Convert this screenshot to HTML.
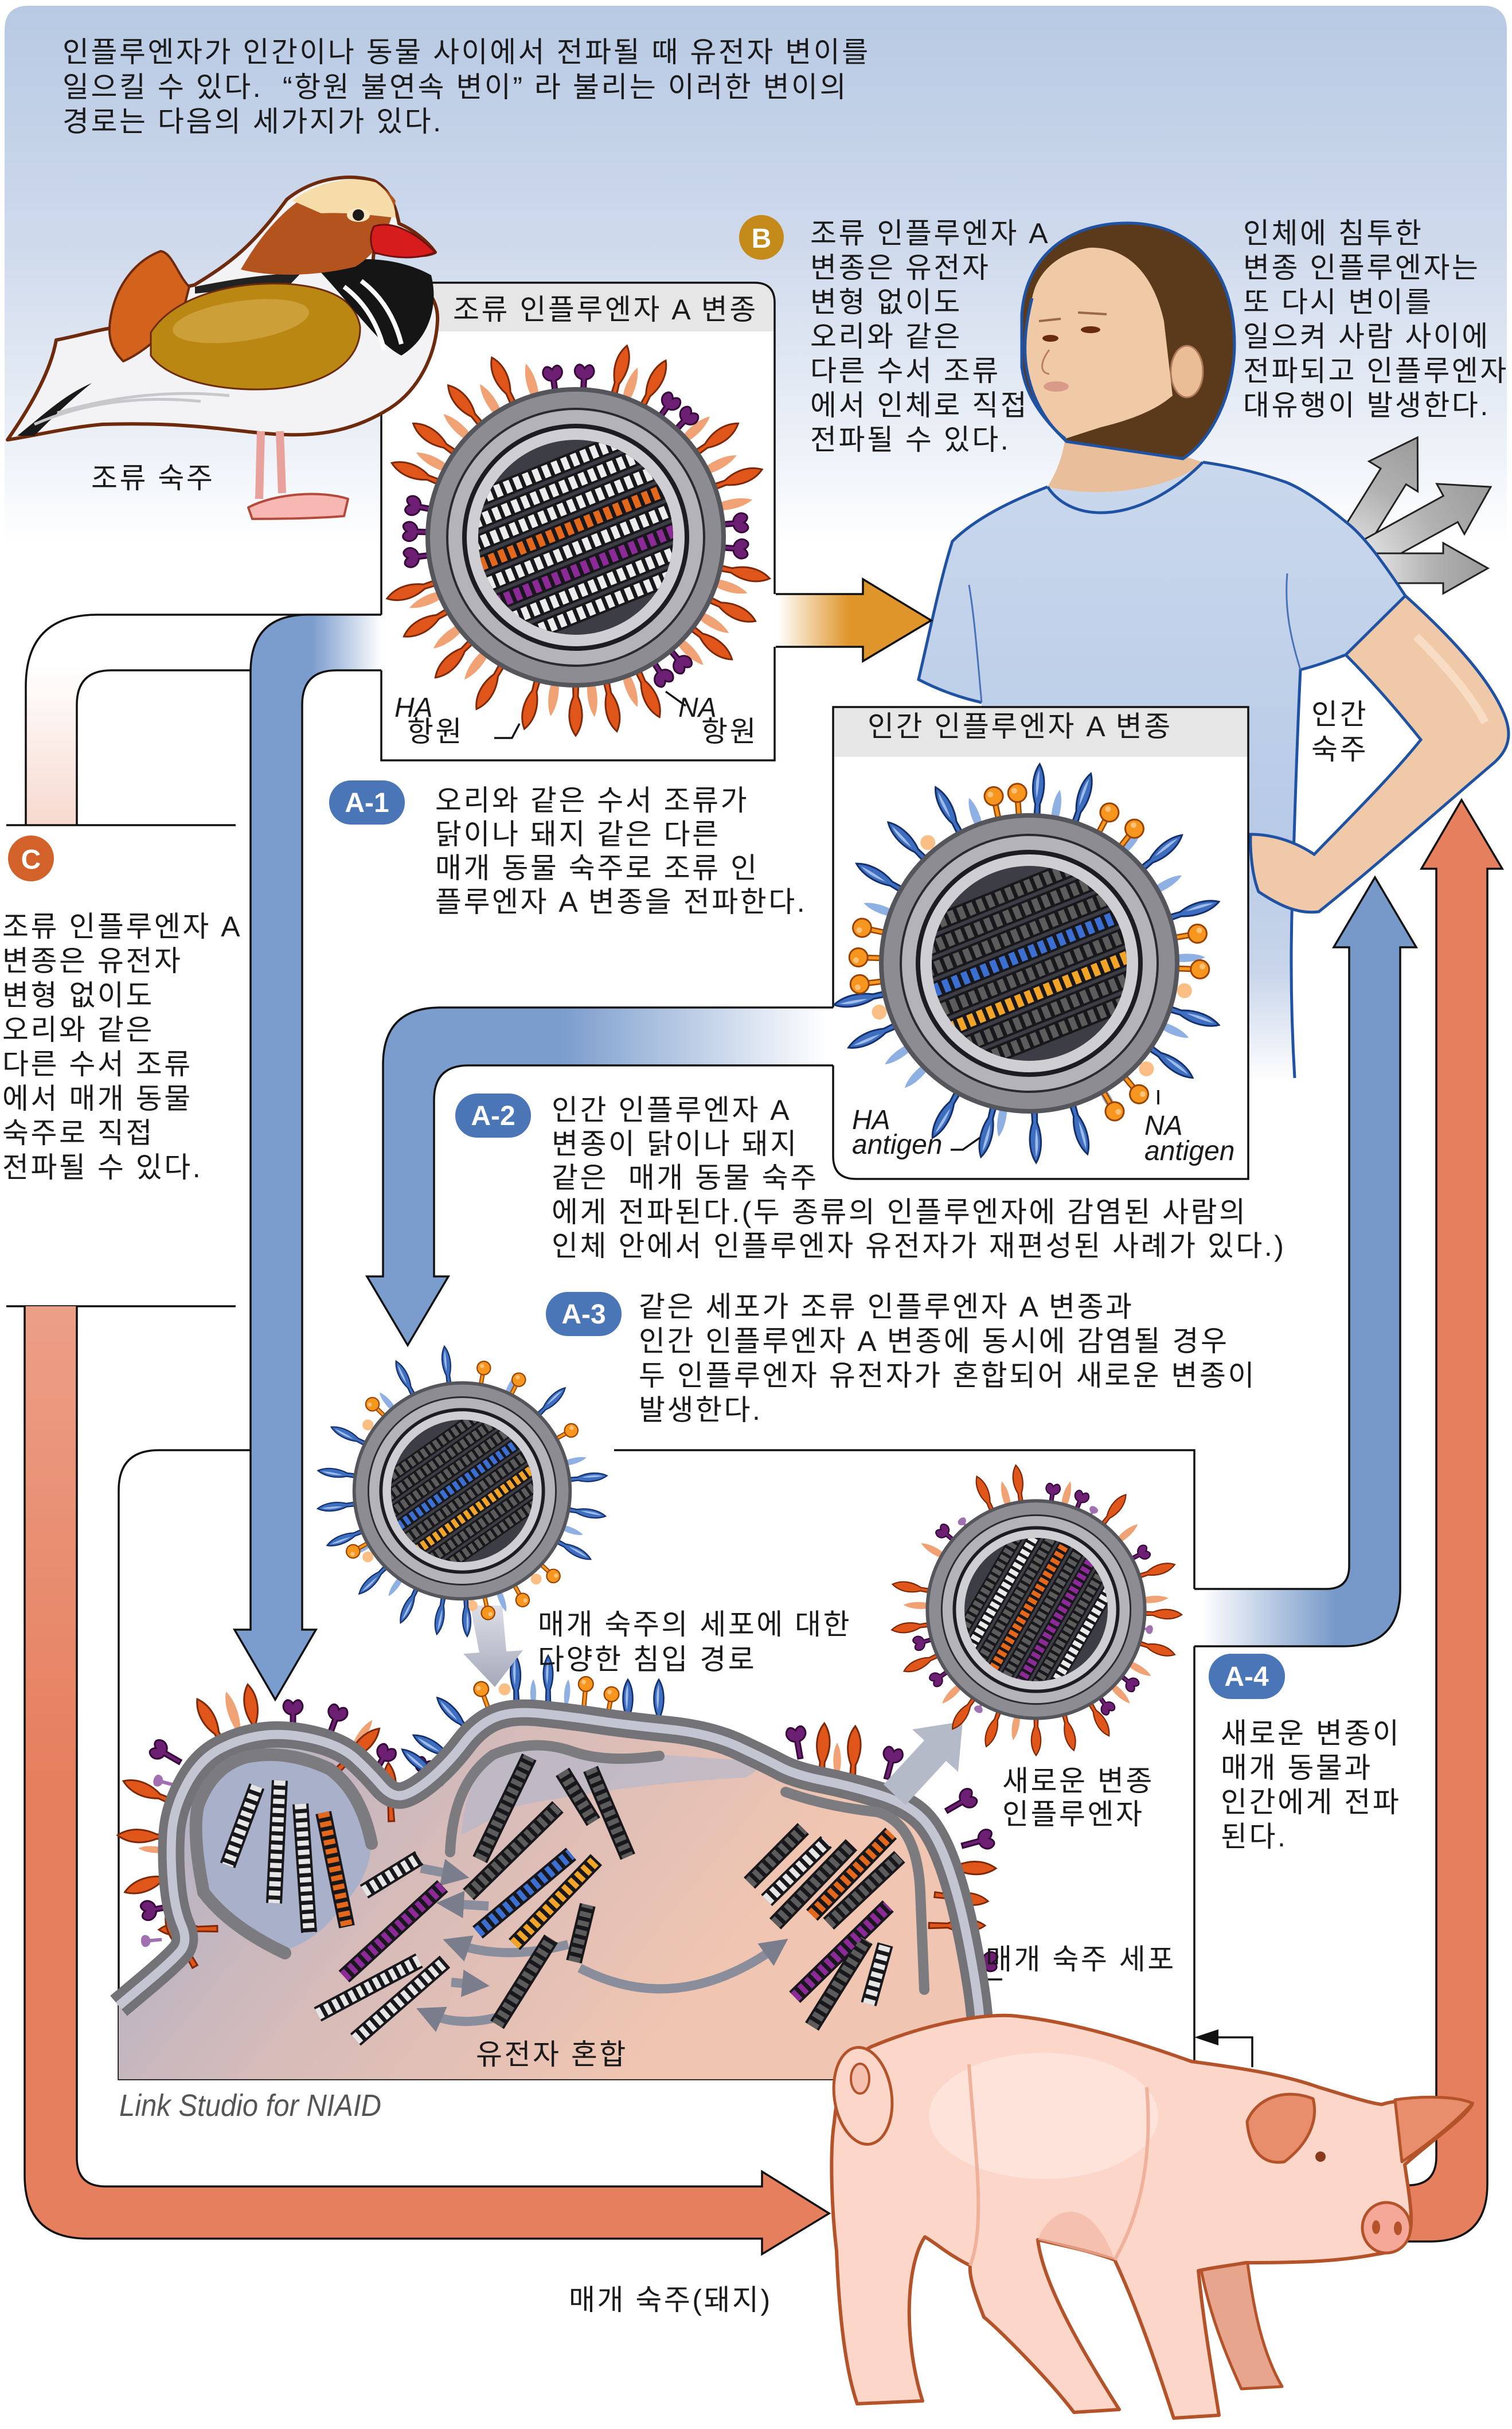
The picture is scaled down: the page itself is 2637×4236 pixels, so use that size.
<!DOCTYPE html>
<html><head><meta charset="utf-8">
<style>
html,body{margin:0;padding:0;background:#fff;}
svg{display:block;}
text{font-family:"Liberation Sans","Noto Sans CJK KR",sans-serif;font-size:50px;fill:#1a1a1a;white-space:pre;letter-spacing:3.5px;}
.it{font-style:italic;font-size:48px;letter-spacing:0;}
.bd{font-weight:bold;fill:#fff;font-size:48px;letter-spacing:0;}
.ln{fill:none;stroke:#111;stroke-width:3.5;}
.kb{stroke:#18181c;stroke-width:28;}
.kw{stroke:#e6e6e6;stroke-width:20;stroke-dasharray:9 7;}
.kk{stroke:#5c5c5c;stroke-width:20;stroke-dasharray:9 7;}
.ko{stroke:#e4681c;stroke-width:20;stroke-dasharray:9 7;}
.kp{stroke:#8c2b97;stroke-width:20;stroke-dasharray:9 7;}
.kB{stroke:#3b6fd2;stroke-width:20;stroke-dasharray:9 7;}
.kO{stroke:#f2a428;stroke-width:20;stroke-dasharray:9 7;}
.rw{fill:none;stroke-width:22;stroke-dasharray:11 7;}
.ga{fill:none;stroke:#8a8e9c;stroke-width:16;marker-end:url(#ah);}
</style></head>
<body>
<svg xmlns="http://www.w3.org/2000/svg" width="2637" height="4236" viewBox="0 0 2637 4236">
<defs>
<linearGradient id="bgG" gradientUnits="userSpaceOnUse" x1="0" y1="10" x2="0" y2="950"><stop offset="0" stop-color="#b7c9e3"/><stop offset="0.45" stop-color="#cfdaec"/><stop offset="0.8" stop-color="#ebf0f7"/><stop offset="1" stop-color="#ffffff"/></linearGradient>
<linearGradient id="cTop" gradientUnits="userSpaceOnUse" x1="0" y1="1160" x2="0" y2="1439"><stop offset="0" stop-color="#ffffff"/><stop offset="1" stop-color="#f7d9cf"/></linearGradient>
<linearGradient id="cLow" gradientUnits="userSpaceOnUse" x1="0" y1="2278" x2="0" y2="3100"><stop offset="0" stop-color="#ec9f87"/><stop offset="1" stop-color="#e67f5e"/></linearGradient>
<linearGradient id="bA1" gradientUnits="userSpaceOnUse" x1="665" y1="0" x2="545" y2="0"><stop offset="0" stop-color="#ffffff"/><stop offset="1" stop-color="#7b9dcd"/></linearGradient>
<linearGradient id="bA2" gradientUnits="userSpaceOnUse" x1="1440" y1="0" x2="980" y2="0"><stop offset="0" stop-color="#ffffff"/><stop offset="1" stop-color="#7b9dcd"/></linearGradient>
<linearGradient id="bA4" gradientUnits="userSpaceOnUse" x1="2095" y1="0" x2="2330" y2="0"><stop offset="0" stop-color="#ffffff"/><stop offset="1" stop-color="#7799c9"/></linearGradient>
<linearGradient id="orB" gradientUnits="userSpaceOnUse" x1="1356" y1="0" x2="1480" y2="0"><stop offset="0" stop-color="#ffffff"/><stop offset="1" stop-color="#e0952a"/></linearGradient>
<linearGradient id="cellG" gradientUnits="userSpaceOnUse" x1="300" y1="2980" x2="1100" y2="3620"><stop offset="0" stop-color="#aab0c8"/><stop offset="0.5" stop-color="#d6bbb9"/><stop offset="1" stop-color="#f0c5b1"/></linearGradient>
<linearGradient id="shirtG" gradientUnits="userSpaceOnUse" x1="0" y1="800" x2="0" y2="1890"><stop offset="0" stop-color="#cad8ed"/><stop offset="0.6" stop-color="#b7cae6"/><stop offset="0.82" stop-color="#c8d5ea"/><stop offset="1" stop-color="#ffffff"/></linearGradient>
<linearGradient id="grA" x1="0" y1="0" x2="1" y2="0"><stop offset="0" stop-color="#e2e2e2"/><stop offset="0.5" stop-color="#b2b2b2"/><stop offset="1" stop-color="#9a9a9a"/></linearGradient>
<linearGradient id="invG" gradientUnits="userSpaceOnUse" x1="0" y1="2800" x2="0" y2="2942"><stop offset="0" stop-color="#dcdfe7"/><stop offset="1" stop-color="#a4a9ba"/></linearGradient>
<marker id="ah" markerWidth="3" markerHeight="3" refX="1.5" refY="1.5" orient="auto" markerUnits="strokeWidth"><path d="M0 0 L3 1.5 L0 3Z" fill="#7a7e8c"/></marker>
<clipPath id="cc"><circle r="170"/></clipPath>
<path id="ha" d="M-5 4 L-4 -30 C-15 -55 -13 -80 0 -98 C13 -80 15 -55 4 -30 L5 4Z" fill="#e0561a" stroke="#7d2808" stroke-width="3"/>
<path id="haf" d="M-4 0 C-12 -30 -8 -55 0 -70 C8 -55 12 -30 4 0Z" fill="#f1a274"/>
<path id="na" d="M-4 4 L-4 -26 C-14 -28 -20 -38 -15 -47 C-10 -55 -3 -50 0 -45 C3 -50 10 -55 15 -47 C20 -38 14 -28 4 -26 L4 4Z" fill="#6c1f73" stroke="#350838" stroke-width="3"/>
<path id="naf" d="M-3 0 L-3 -20 C-10 -22 -13 -30 -8 -34 C-4 -37 4 -37 8 -34 C13 -30 10 -22 3 -20 L3 0Z" fill="#a070b0"/>
<g id="hab"><path d="M-5 4 L-4 -30 C-13 -55 -11 -82 0 -100 C11 -82 13 -55 4 -30 L5 4Z" fill="#3e6ec0" stroke="#13306c" stroke-width="3"/><path d="M-2 -40 C-6 -60 -5 -78 0 -90 C1 -75 1 -60 -2 -40Z" fill="#9fbbe8"/></g>
<path id="habf" d="M-4 0 C-10 -25 -7 -50 0 -62 C7 -50 10 -25 4 0Z" fill="#8fb0e2"/>
<g id="nao"><rect x="-4" y="-38" width="8" height="42" fill="#f7961f" stroke="#9a4300" stroke-width="2.5"/><circle cy="-48" r="16" fill="#f7961f" stroke="#9a4300" stroke-width="3"/><circle cx="-5" cy="-52" r="5" fill="#fcc27a"/></g>
<circle id="naof" cy="-30" r="13" fill="#fbbf86"/>
<g id="vb">
<circle r="262" fill="#55555c"/><circle r="254" fill="#8c8c92"/><circle r="226" fill="#2a2a30"/><circle r="222" fill="#b3b3b8"/><circle r="198" fill="#1c1c22"/><circle r="190" fill="#cfcfd3"/><circle r="170" fill="#3d3d46"/>
</g>
<path id="rows" d="M-190 -126H190M-190 -90H190M-190 -54H190M-190 -18H190M-190 18H190M-190 54H190M-190 90H190M-190 126H190" stroke="#18181c" stroke-width="30"/>
</defs>

<!-- background -->
<rect width="2637" height="4236" fill="#fff"/>
<path d="M8 52 Q8 10 50 10 L2586 10 Q2628 10 2628 52 L2628 960 L8 960 Z" fill="url(#bgG)"/>

<!-- avian box -->
<path d="M665 493 L1316 493 Q1351 493 1351 528 L1351 1326 L665 1326 Z" fill="#fff"/>
<path d="M665 493 L1316 493 Q1351 493 1351 528 L1351 578 L665 578 Z" fill="#e6e6e6"/>
<path class="ln" d="M665 730 L665 493 L1316 493 Q1351 493 1351 528 L1351 1036 M1351 1128 L1351 1326 L665 1326 L665 1169 M665 1072 L665 730"/>

<!-- gray arrows behind woman -->
<g stroke="#222" stroke-width="3" fill="url(#grA)">
<polygon transform="translate(2350 960) rotate(-58.2)" points="0,-26 152,-26 152,-50 232,0 152,50 152,26 0,26"/>
<polygon transform="translate(2380 970) rotate(-28.8)" points="0,-26 171,-26 171,-50 251,0 171,50 171,26 0,26"/>
<polygon transform="translate(2400 991)" points="0,-26 117,-26 117,-44 195,0 117,44 117,26 0,26"/>
</g>

<!-- woman -->
<path d="M1827 849 C1760 875 1700 905 1661 944 C1640 1010 1622 1100 1602 1185 C1640 1205 1680 1218 1712 1225 L1712 1900 L2258 1900 C2252 1780 2250 1660 2254 1560 C2258 1420 2262 1290 2268 1168 C2300 1160 2325 1150 2347 1142 L2451 1039 C2415 985 2380 935 2347 910 C2305 875 2270 852 2243 841 C2190 822 2140 812 2098 806 C2050 850 1930 872 1827 849 Z" fill="url(#shirtG)"/>
<path d="M1712 1225 C1680 1218 1640 1205 1602 1185 C1622 1100 1640 1010 1661 944 C1700 905 1760 875 1827 849 M2098 806 C2140 812 2190 822 2243 841 C2270 852 2305 875 2347 910 C2380 935 2415 985 2451 1039 L2347 1142 C2325 1150 2300 1160 2268 1168 C2262 1290 2258 1420 2254 1560 C2250 1680 2252 1780 2258 1880" fill="none" stroke="#1f52a3" stroke-width="5"/>
<path d="M1712 1225 C1705 1150 1700 1080 1690 1020 M2268 1168 C2250 1110 2240 1060 2245 1000" fill="none" stroke="#4a72b8" stroke-width="3"/>
<path d="M1858 760 L2063 795 L2098 806 C2050 850 1930 872 1827 849 C1845 820 1855 790 1858 760 Z" fill="#e9bf9b"/>
<path d="M1827 849 C1870 915 1990 915 2098 806" fill="none" stroke="#1f52a3" stroke-width="5"/>
<path d="M1782 548 C1790 440 1870 389 1966 389 C2080 389 2153 470 2153 600 C2153 690 2110 770 2063 800 L1860 770 C1830 740 1790 700 1782 640 Z" fill="#5b3a1c" stroke="#1f52a3" stroke-width="5"/>
<path d="M1800 520 C1810 470 1850 440 1900 432 C1960 430 2010 470 2030 560 L2045 690 C2010 720 1960 735 1920 745 L1858 765 C1830 745 1800 700 1790 640 C1784 600 1790 560 1800 520 Z" fill="#f0caa6"/>
<path d="M1800 520 C1790 560 1784 600 1790 640 C1800 700 1830 745 1858 765" fill="none" stroke="#1f52a3" stroke-width="5"/>
<ellipse cx="2070" cy="648" rx="28" ry="45" fill="#eabd96" stroke="#b07a5a" stroke-width="3"/>
<ellipse cx="1832" cy="590" rx="14" ry="6" fill="#6a2a10"/>
<ellipse cx="1902" cy="575" rx="17" ry="6" fill="#6a2a10"/>
<path d="M1812 560 L1850 556 M1880 545 L1930 548" stroke="#9a6a48" stroke-width="4"/>
<path d="M1830 610 C1815 630 1812 650 1830 652" fill="none" stroke="#b88060" stroke-width="3"/>
<ellipse cx="1842" cy="674" rx="22" ry="9" fill="#d99a8a"/>
<path d="M2347 1142 L2451 1039 C2530 1110 2600 1185 2625 1250 C2640 1290 2625 1315 2600 1335 C2500 1420 2400 1510 2300 1590 C2260 1595 2225 1575 2195 1555 C2185 1530 2180 1490 2181 1455 C2215 1455 2255 1465 2292 1490 C2360 1420 2430 1350 2478 1290 C2430 1230 2390 1185 2347 1142 Z" fill="#f0caa8" stroke="#1f52a3" stroke-width="5"/>
<path d="M2470 1110 C2530 1170 2570 1220 2590 1260" fill="none" stroke="#f8dcc4" stroke-width="14"/>

<!-- human box -->
<path d="M1453 1233 L2177 1233 L2177 2056 L1493 2056 Q1453 2056 1453 2016 Z" fill="#fff"/>
<rect x="1453" y="1233" width="724" height="87" fill="#e6e6e6"/>
<path class="ln" d="M1453 1757 L1453 1233 L2177 1233 L2177 2056 L1493 2056 Q1453 2056 1453 2016 L1453 1858"/>

<!-- C pipe top -->
<path d="M665 1072 L170 1072 Q45 1072 45 1197 L45 1439 L134 1439 L134 1229 Q134 1169 194 1169 L665 1169 Z" fill="url(#cTop)"/>
<path class="ln" d="M665 1072 L170 1072 Q45 1072 45 1197 L45 1439 M134 1439 L134 1229 Q134 1169 194 1169 L437 1169"/>
<path class="ln" d="M11 1439 L411 1439 M11 2278 L411 2278"/>
<!-- C pipe bottom -->
<path d="M43 2278 L43 3794 Q43 3904 153 3904 L1329 3904 L1329 3931 L1446 3860 L1329 3787 L1329 3813 L184 3813 Q134 3813 134 3763 L134 2278 Z" fill="url(#cLow)"/>
<path class="ln" d="M134 2278 L134 3763 Q134 3813 184 3813 L1329 3813 L1329 3787 L1446 3860 L1329 3931 L1329 3904 L153 3904 Q43 3904 43 3794 L43 2278"/>

<!-- right red pipe -->
<path d="M2479 1515 L2549 1395 L2620 1515 L2594 1515 L2594 3809 Q2594 3909 2494 3909 L2380 3909 L2380 3811 L2455 3811 Q2505 3811 2505 3761 L2505 1515 Z" fill="#e67f5e"/>
<path class="ln" d="M2380 3811 L2455 3811 Q2505 3811 2505 3761 L2505 1515 L2479 1515 L2549 1395 L2620 1515 L2594 1515 L2594 3809 Q2594 3909 2494 3909 L2380 3909"/>

<!-- A-1 pipe -->
<path d="M665 1072 L537 1072 Q437 1072 437 1172 L437 2842 L409 2842 L480 2964 L551 2842 L527 2842 L527 1229 Q527 1169 587 1169 L665 1169 Z" fill="url(#bA1)"/>
<path class="ln" d="M665 1072 L537 1072 Q437 1072 437 1172 L437 2842 L409 2842 L480 2964 L551 2842 L527 2842 L527 1229 Q527 1169 587 1169 L665 1169"/>

<!-- A-2 pipe -->
<path d="M1453 1757 L768 1757 Q668 1757 668 1857 L668 2226 L640 2226 L711 2346 L782 2226 L757 2226 L757 1918 Q757 1858 817 1858 L1453 1858 Z" fill="url(#bA2)"/>
<path class="ln" d="M1453 1757 L768 1757 Q668 1757 668 1857 L668 2226 L640 2226 L711 2346 L782 2226 L757 2226 L757 1918 Q757 1858 817 1858 L1453 1858"/>

<!-- A-4 pipe -->
<path d="M2083 2771 L2313 2771 Q2353 2771 2353 2731 L2353 1652 L2326 1652 L2398 1530 L2470 1652 L2442 1652 L2442 2771 Q2442 2871 2342 2871 L2083 2871 Z" fill="url(#bA4)"/>
<path class="ln" d="M2083 2771 L2313 2771 Q2353 2771 2353 2731 L2353 1652 L2326 1652 L2398 1530 L2470 1652 L2442 1652 L2442 2771 Q2442 2871 2342 2871 L2083 2871"/>

<!-- B orange arrow -->
<path d="M1353 1036 L1505 1036 L1505 1010 L1624 1082 L1505 1153 L1505 1128 L1353 1128 Z" fill="url(#orB)"/>
<path class="ln" d="M1353 1036 L1505 1036 L1505 1010 L1624 1082 L1505 1153 L1505 1128 L1353 1128"/>

<!-- cell region box lines -->
<path class="ln" d="M437 2529 L277 2529 Q207 2529 207 2599 L207 3626 L1460 3626 M1071 2529 L2083 2529 L2083 2771 M2083 2871 L2083 3600 M2184 3605 L2184 3553 L2118 3553 M1701 3452 L1748 3452"/>
<polygon points="2083,3553 2125,3539 2125,3567" fill="#111"/>

<!-- cell -->
<path d="M207 3498 L253 3459.5 Q299 3421 314 3403.5 Q329 3386 317 3358 Q305 3330 301 3285 Q297 3240 299.5 3198 Q302 3156 325 3112.5 Q348 3069 382.5 3050.5 Q417 3032 457 3026.5 Q497 3021 546 3032.5 Q595 3044 620 3067 Q645 3090 664.5 3113 Q684 3136 704 3130.5 Q724 3125 753.5 3099.5 Q783 3074 808 3041 Q833 3008 862.5 2995.5 Q892 2983 941.5 2988 Q991 2993 1040.5 3000.5 Q1090 3008 1164 3015.5 Q1238 3023 1287.5 3046 Q1337 3069 1361.5 3082 Q1386 3095 1435.5 3105 Q1485 3115 1534.5 3130.5 Q1584 3146 1608.5 3171.5 Q1633 3197 1653 3253 Q1673 3309 1688 3385.5 Q1703 3462 1707.5 3508 Q1712 3554 1714.5 3590 L1717 3626 L207 3626 Z" fill="url(#cellG)"/>
<path d="M360 3300 Q335 3200 350 3140 Q370 3080 430 3062 Q500 3048 570 3080 Q630 3120 645 3200 Q655 3260 600 3320 Q560 3380 500 3400 Q420 3400 360 3300 Z" fill="#a9b0c9"/>
<path d="M805 3200 Q810 3100 870 3060 Q930 3035 1000 3055 Q1060 3070 1150 3060 L1300 3070 Q1340 3080 1300 3100 Q1100 3110 900 3150 Z" fill="#b5b8cb" opacity="0.7"/>

<!-- cell spikes -->
<g>
<use href="#haf" transform="translate(425 3045) rotate(-18) translate(0 -30)"/>
<use href="#haf" transform="translate(600 3070) rotate(35) translate(0 -30) scale(.8)"/>
<use href="#haf" transform="translate(320 3230) rotate(-85) translate(0 -30) scale(.7)"/>
<use href="#ha" transform="translate(452 3064) rotate(-9) translate(0 -30)"/>
<use href="#ha" transform="translate(408 3074) rotate(-30) translate(0 -30)"/>
<use href="#ha" transform="translate(571 3105) rotate(45) translate(0 -30)"/>
<use href="#ha" transform="translate(684 3202) rotate(-3) translate(0 -30)"/>
<use href="#ha" transform="translate(333 3156) rotate(-67) translate(0 -30)"/>
<use href="#ha" transform="translate(333 3205) rotate(-88) translate(0 -30)"/>
<use href="#ha" transform="translate(338 3256) rotate(-110) translate(0 -30)"/>
<use href="#ha" transform="translate(405 3363) rotate(-91) translate(0 -30)"/>
<use href="#ha" transform="translate(353 3452) rotate(-30) translate(0 -30)"/>
<use href="#na" transform="translate(511 3044) translate(0 -28)"/>
<use href="#na" transform="translate(566 3050) rotate(20) translate(0 -28)"/>
<use href="#na" transform="translate(335 3085) rotate(-60) translate(0 -28)"/>
<use href="#na" transform="translate(325 3320) rotate(-100) translate(0 -28)"/>
<use href="#na" transform="translate(640 3115) rotate(30) translate(0 -28)"/>
<use href="#na" transform="translate(712 3140) rotate(25) translate(0 -28)"/>
<use href="#naf" transform="translate(330 3120) rotate(-75) translate(0 -28)"/>
<use href="#naf" transform="translate(310 3380) rotate(-95) translate(0 -28)"/>
<use href="#habf" transform="translate(930 3000) translate(0 -28) scale(.7)"/>
<use href="#habf" transform="translate(985 3000) rotate(5) translate(0 -28) scale(.7)"/>
<use href="#hab" transform="translate(902 3003) rotate(-2) translate(0 -28) scale(.9)"/>
<use href="#hab" transform="translate(956 3000) translate(0 -28) scale(.85)"/>
<use href="#hab" transform="translate(1095 3045) translate(0 -28) scale(.88)"/>
<use href="#hab" transform="translate(1149 3045) translate(0 -28) scale(.88)"/>
<use href="#hab" transform="translate(843 3044) rotate(-44) translate(0 -28) scale(.88)"/>
<use href="#hab" transform="translate(823 3085) rotate(-60) translate(0 -28) scale(.9)"/>
<use href="#hab" transform="translate(793 3125) rotate(-51) translate(0 -28) scale(.9)"/>
<use href="#naof" transform="translate(880 2998) translate(0 -28) scale(.8)"/>
<use href="#nao" transform="translate(862 3008) rotate(-20) translate(0 -28) scale(.8)"/>
<use href="#nao" transform="translate(1016 3003) rotate(5) translate(0 -28) scale(.8)"/>
<use href="#nao" transform="translate(1055 3020) rotate(10) translate(0 -28) scale(.8)"/>
<use href="#haf" transform="translate(1460 3125) translate(0 -30) scale(.8)"/>
<use href="#ha" transform="translate(1431 3133) rotate(3) translate(0 -30)"/>
<use href="#ha" transform="translate(1485 3138) rotate(3) translate(0 -30)"/>
<use href="#ha" transform="translate(1569 3156) rotate(23) translate(0 -30) scale(.9)"/>
<use href="#ha" transform="translate(1609 3256) rotate(91) translate(0 -30)"/>
<use href="#ha" transform="translate(1604 3301) rotate(97) translate(0 -30) scale(.92)"/>
<use href="#ha" transform="translate(1594 3358) rotate(90) translate(0 -30) scale(.96)"/>
<use href="#na" transform="translate(1400 3090) rotate(-10) translate(0 -28)"/>
<use href="#na" transform="translate(1540 3125) rotate(15) translate(0 -28)"/>
<use href="#na" transform="translate(1630 3170) rotate(60) translate(0 -28)"/>
<use href="#na" transform="translate(1655 3225) rotate(75) translate(0 -28)"/>
<use href="#na" transform="translate(1660 3415) rotate(95) translate(0 -28)"/>
</g>
<!-- membrane -->
<path d="M207 3498 L253 3459.5 Q299 3421 314 3403.5 Q329 3386 317 3358 Q305 3330 301 3285 Q297 3240 299.5 3198 Q302 3156 325 3112.5 Q348 3069 382.5 3050.5 Q417 3032 457 3026.5 Q497 3021 546 3032.5 Q595 3044 620 3067 Q645 3090 664.5 3113 Q684 3136 704 3130.5 Q724 3125 753.5 3099.5 Q783 3074 808 3041 Q833 3008 862.5 2995.5 Q892 2983 941.5 2988 Q991 2993 1040.5 3000.5 Q1090 3008 1164 3015.5 Q1238 3023 1287.5 3046 Q1337 3069 1361.5 3082 Q1386 3095 1435.5 3105 Q1485 3115 1534.5 3130.5 Q1584 3146 1608.5 3171.5 Q1633 3197 1653 3253 Q1673 3309 1688 3385.5 Q1703 3462 1707.5 3508 Q1712 3554 1714.5 3590 L1717 3626" fill="none" stroke="#727277" stroke-width="46" stroke-linejoin="round"/>
<path d="M207 3498 L253 3459.5 Q299 3421 314 3403.5 Q329 3386 317 3358 Q305 3330 301 3285 Q297 3240 299.5 3198 Q302 3156 325 3112.5 Q348 3069 382.5 3050.5 Q417 3032 457 3026.5 Q497 3021 546 3032.5 Q595 3044 620 3067 Q645 3090 664.5 3113 Q684 3136 704 3130.5 Q724 3125 753.5 3099.5 Q783 3074 808 3041 Q833 3008 862.5 2995.5 Q892 2983 941.5 2988 Q991 2993 1040.5 3000.5 Q1090 3008 1164 3015.5 Q1238 3023 1287.5 3046 Q1337 3069 1361.5 3082 Q1386 3095 1435.5 3105 Q1485 3115 1534.5 3130.5 Q1584 3146 1608.5 3171.5 Q1633 3197 1653 3253 Q1673 3309 1688 3385.5 Q1703 3462 1707.5 3508 Q1712 3554 1714.5 3590 L1717 3626" fill="none" stroke="#c3c6d2" stroke-width="16" stroke-linejoin="round"/>
<path d="M497 3406 Q400 3360 355 3300 Q335 3200 345 3150 Q370 3080 430 3064 Q500 3050 575 3085 Q630 3125 648 3215" fill="none" stroke="#7b7b80" stroke-width="22" stroke-linecap="round"/>
<path d="M785 3230 Q790 3110 860 3060 Q930 3030 1000 3055 Q1060 3075 1150 3062" fill="none" stroke="#7b7b80" stroke-width="18" stroke-linecap="round"/>
<path d="M1370 3125 Q1440 3150 1530 3160 Q1600 3180 1605 3300 L1612 3470" fill="none" stroke="#7b7b80" stroke-width="18" stroke-linecap="round"/>

<!-- cell arrows -->
<path class="ga" d="M734 3258 L795 3270"/>
<path class="ga" d="M852 3324 L785 3320"/>
<path class="ga" d="M991 3391 Q880 3420 795 3390"/>
<path class="ga" d="M1011 3432 Q1180 3520 1355 3395" stroke="#6c7080" stroke-width="20"/>
<path class="ga" d="M787 3457 L830 3461"/>
<path class="ga" d="M867 3518 Q800 3535 748 3512"/>

<!-- cell coils -->
<g>
<path class="kb" d="M448 3115L397 3253M488 3105L478 3319M524 3146L539 3370M564 3161L605 3360M635 3299L731 3240M600 3447L772 3289M554 3513L731 3419M620 3557L776 3421M837 3243L923 3064M817 3304L973 3151M981 3090L1035 3177M1030 3085L1095 3238M833 3370L996 3233M897 3391L1040 3243M1001 3421L1025 3322M867 3531L961 3381M1307 3284L1401 3189M1337 3314L1441 3212M1352 3355L1485 3217M1416 3340L1554 3197M1445 3355L1569 3238M1386 3483L1549 3324M1416 3534L1510 3383M1515 3495L1544 3391"/>
<path class="kw" d="M448 3115L397 3253M488 3105L478 3319M524 3146L539 3370M635 3299L731 3240M554 3513L731 3419M620 3557L776 3421M1337 3314L1441 3212M1515 3495L1544 3391"/>
<path class="ko" d="M564 3161L605 3360M1416 3340L1554 3197"/>
<path class="kp" d="M600 3447L772 3289M1386 3483L1549 3324"/>
<path class="kk" d="M837 3243L923 3064M817 3304L973 3151M981 3090L1035 3177M1030 3085L1095 3238M1001 3421L1025 3322M867 3531L961 3381M1307 3284L1401 3189M1352 3355L1485 3217M1445 3355L1569 3238M1416 3534L1510 3383"/>
<path class="kB" d="M833 3370L996 3233"/>
<path class="kO" d="M897 3391L1040 3243"/>
</g>

<!-- invasion arrows -->
<polygon points="820,2800 876,2800 883,2880 912,2878 863,2942 808,2884 836,2882" fill="url(#invG)"/>
<polygon points="1541,3112 1612,3035 1591,3016 1679,3002 1671,3090 1650,3071 1579,3148" fill="#b4bac8"/>

<!-- V1 avian virus -->
<g transform="translate(1004 937)">
<use href="#haf" transform="rotate(-142) translate(0 -245)"/><use href="#haf" transform="rotate(-128) translate(0 -245)"/><use href="#haf" transform="rotate(-113) translate(0 -245)"/><use href="#haf" transform="rotate(-62) translate(0 -245)"/><use href="#haf" transform="rotate(-47) translate(0 -245)"/><use href="#haf" transform="rotate(-32) translate(0 -245)"/><use href="#haf" transform="rotate(-16) translate(0 -245)"/><use href="#haf" transform="rotate(20) translate(0 -245)"/><use href="#haf" transform="rotate(48) translate(0 -245)"/><use href="#haf" transform="rotate(63) translate(0 -245)"/><use href="#haf" transform="rotate(78) translate(0 -245)"/><use href="#haf" transform="rotate(108) translate(0 -245)"/><use href="#haf" transform="rotate(122) translate(0 -245)"/><use href="#haf" transform="rotate(135) translate(0 -245)"/><use href="#haf" transform="rotate(160) translate(0 -245)"/><use href="#haf" transform="rotate(174) translate(0 -245)"/><use href="#haf" transform="rotate(-172) translate(0 -245)"/>
<use href="#ha" transform="rotate(-165) translate(0 -248)"/><use href="#ha" transform="rotate(-150) translate(0 -248)"/><use href="#ha" transform="rotate(-135) translate(0 -248)"/><use href="#ha" transform="rotate(-120) translate(0 -248)"/><use href="#ha" transform="rotate(-108) translate(0 -248)"/><use href="#ha" transform="rotate(-68) translate(0 -248)"/><use href="#ha" transform="rotate(-55) translate(0 -248)"/><use href="#ha" transform="rotate(-40) translate(0 -248)"/><use href="#ha" transform="rotate(-25) translate(0 -248)"/><use href="#ha" transform="rotate(15) translate(0 -248)"/><use href="#ha" transform="rotate(27) translate(0 -248)"/><use href="#ha" transform="rotate(55) translate(0 -248)"/><use href="#ha" transform="rotate(70) translate(0 -248)"/><use href="#ha" transform="rotate(102) translate(0 -248)"/><use href="#ha" transform="rotate(115) translate(0 -248)"/><use href="#ha" transform="rotate(128) translate(0 -248)"/><use href="#ha" transform="rotate(155) translate(0 -248)"/><use href="#ha" transform="rotate(168) translate(0 -248)"/><use href="#ha" transform="rotate(180) translate(0 -248)"/>
<use href="#na" transform="rotate(-97) translate(0 -250)"/><use href="#na" transform="rotate(-88) translate(0 -250)"/><use href="#na" transform="rotate(-79) translate(0 -250)"/><use href="#na" transform="rotate(-8) translate(0 -250)"/><use href="#na" transform="rotate(3) translate(0 -250)"/><use href="#na" transform="rotate(35) translate(0 -250)"/><use href="#na" transform="rotate(43) translate(0 -250)"/><use href="#na" transform="rotate(85) translate(0 -250)"/><use href="#na" transform="rotate(94) translate(0 -250)"/><use href="#na" transform="rotate(140) translate(0 -250)"/><use href="#na" transform="rotate(148) translate(0 -250)"/>
<use href="#vb"/>
<g clip-path="url(#cc)"><g transform="rotate(-22)"><use href="#rows"/>
<path class="rw" stroke="#ececec" d="M-190 -126H190M-190 -90H190M-190 -54H190M-190 18H190M-190 90H190M-190 126H190"/>
<path class="rw" stroke="#e4681c" d="M-190 -18H190"/>
<path class="rw" stroke="#8c2b97" d="M-190 54H190"/>
</g></g>
</g>

<!-- V2 human virus -->
<g transform="translate(1795 1680)">
<use href="#habf" transform="rotate(-135) translate(0 -245)"/><use href="#habf" transform="rotate(-20) translate(0 -245)"/><use href="#habf" transform="rotate(10) translate(0 -245)"/><use href="#habf" transform="rotate(40) translate(0 -245)"/><use href="#habf" transform="rotate(60) translate(0 -245)"/><use href="#habf" transform="rotate(88) translate(0 -245)"/><use href="#habf" transform="rotate(115) translate(0 -245)"/><use href="#habf" transform="rotate(150) translate(0 -245)"/><use href="#habf" transform="rotate(-170) translate(0 -245)"/><use href="#habf" transform="rotate(-125) translate(0 -245)"/><use href="#habf" transform="rotate(-70) translate(0 -245)"/>
<use href="#naof" transform="rotate(100) translate(0 -245)"/><use href="#naof" transform="rotate(-108) translate(0 -245)"/><use href="#naof" transform="rotate(132) translate(0 -245)"/><use href="#naof" transform="rotate(-40) translate(0 -245)"/>
<use href="#hab" transform="rotate(-166) translate(0 -248)"/><use href="#hab" transform="rotate(-151) translate(0 -248)"/><use href="#hab" transform="rotate(-115) translate(0 -248)"/><use href="#hab" transform="rotate(-102) translate(0 -248)"/><use href="#hab" transform="rotate(-60) translate(0 -248)"/><use href="#hab" transform="rotate(-45) translate(0 -248)"/><use href="#hab" transform="rotate(-28) translate(0 -248)"/><use href="#hab" transform="rotate(3) translate(0 -248)"/><use href="#hab" transform="rotate(18) translate(0 -248)"/><use href="#hab" transform="rotate(50) translate(0 -248)"/><use href="#hab" transform="rotate(72) translate(0 -248)"/><use href="#hab" transform="rotate(108) translate(0 -248)"/><use href="#hab" transform="rotate(125) translate(0 -248)"/><use href="#hab" transform="rotate(163) translate(0 -248)"/><use href="#hab" transform="rotate(178) translate(0 -248)"/>
<use href="#nao" transform="rotate(-12) translate(0 -250)"/><use href="#nao" transform="rotate(-4) translate(0 -250)"/><use href="#nao" transform="rotate(28) translate(0 -250)"/><use href="#nao" transform="rotate(38) translate(0 -250)"/><use href="#nao" transform="rotate(-78) translate(0 -250)"/><use href="#nao" transform="rotate(-88) translate(0 -250)"/><use href="#nao" transform="rotate(-97) translate(0 -250)"/><use href="#nao" transform="rotate(80) translate(0 -250)"/><use href="#nao" transform="rotate(92) translate(0 -250)"/><use href="#nao" transform="rotate(140) translate(0 -250)"/><use href="#nao" transform="rotate(150) translate(0 -250)"/>
<use href="#vb"/>
<g clip-path="url(#cc)"><g transform="rotate(-22)"><use href="#rows"/>
<path class="rw" stroke="#5c5c5c" d="M-190 -126H190M-190 -90H190M-190 -54H190M-190 18H190M-190 90H190M-190 126H190"/>
<path class="rw" stroke="#3b6fd2" d="M-190 -18H190"/>
<path class="rw" stroke="#f2a428" d="M-190 54H190"/>
</g></g>
</g>

<!-- V3 hybrid virus -->
<g transform="translate(806 2600) scale(.73)">
<use href="#habf" transform="rotate(-40) translate(0 -245)"/><use href="#habf" transform="rotate(-120) translate(0 -245)"/><use href="#habf" transform="rotate(-145) translate(0 -245)"/><use href="#habf" transform="rotate(75) translate(0 -245)"/><use href="#habf" transform="rotate(110) translate(0 -245)"/><use href="#habf" transform="rotate(160) translate(0 -245)"/><use href="#habf" transform="rotate(25) translate(0 -245)"/>
<use href="#naof" transform="rotate(140) translate(0 -245)"/><use href="#naof" transform="rotate(175) translate(0 -245)"/><use href="#naof" transform="rotate(-125) translate(0 -245)"/><use href="#naof" transform="rotate(-55) translate(0 -245)"/>
<use href="#hab" transform="rotate(-7) translate(0 -248)"/><use href="#hab" transform="rotate(-27) translate(0 -248)"/><use href="#hab" transform="rotate(-64) translate(0 -248)"/><use href="#hab" transform="rotate(-82) translate(0 -248)"/><use href="#hab" transform="rotate(-97) translate(0 -248)"/><use href="#hab" transform="rotate(-112) translate(0 -248)"/><use href="#hab" transform="rotate(-135) translate(0 -248)"/><use href="#hab" transform="rotate(-155) translate(0 -248)"/><use href="#hab" transform="rotate(178) translate(0 -248)"/><use href="#hab" transform="rotate(118) translate(0 -248)"/><use href="#hab" transform="rotate(100) translate(0 -248)"/><use href="#hab" transform="rotate(84) translate(0 -248)"/><use href="#hab" transform="rotate(45) translate(0 -248)"/><use href="#hab" transform="rotate(-170) translate(0 -248)"/>
<use href="#nao" transform="rotate(10) translate(0 -250)"/><use href="#nao" transform="rotate(27) translate(0 -250)"/><use href="#nao" transform="rotate(61) translate(0 -250)"/><use href="#nao" transform="rotate(133) translate(0 -250)"/><use href="#nao" transform="rotate(151) translate(0 -250)"/><use href="#nao" transform="rotate(168) translate(0 -250)"/><use href="#nao" transform="rotate(-119) translate(0 -250)"/><use href="#nao" transform="rotate(-46) translate(0 -250)"/>
<use href="#vb"/>
<g clip-path="url(#cc)"><g transform="rotate(-35)"><use href="#rows"/>
<path class="rw" stroke="#5c5c5c" d="M-190 -126H190M-190 -90H190M-190 -54H190M-190 18H190M-190 90H190M-190 126H190"/>
<path class="rw" stroke="#3b6fd2" d="M-190 -18H190"/>
<path class="rw" stroke="#f2a428" d="M-190 54H190"/>
</g></g>
</g>

<!-- V4 new virus -->
<g transform="translate(1807 2807) scale(.735)">
<use href="#haf" transform="rotate(-15) translate(0 -245)"/><use href="#haf" transform="rotate(15) translate(0 -245)"/><use href="#haf" transform="rotate(50) translate(0 -245)"/><use href="#haf" transform="rotate(85) translate(0 -245)"/><use href="#haf" transform="rotate(120) translate(0 -245)"/><use href="#haf" transform="rotate(135) translate(0 -245)"/><use href="#haf" transform="rotate(-135) translate(0 -245)"/><use href="#haf" transform="rotate(-170) translate(0 -245)"/><use href="#haf" transform="rotate(-88) translate(0 -245)"/><use href="#haf" transform="rotate(-60) translate(0 -245)"/>
<use href="#naf" transform="rotate(30) translate(0 -245)"/><use href="#naf" transform="rotate(-40) translate(0 -245)"/><use href="#naf" transform="rotate(-150) translate(0 -245)"/><use href="#naf" transform="rotate(100) translate(0 -245)"/>
<use href="#ha" transform="rotate(-8) translate(0 -248)"/><use href="#ha" transform="rotate(-24) translate(0 -248)"/><use href="#ha" transform="rotate(38) translate(0 -248)"/><use href="#ha" transform="rotate(72) translate(0 -248)"/><use href="#ha" transform="rotate(92) translate(0 -248)"/><use href="#ha" transform="rotate(108) translate(0 -248)"/><use href="#ha" transform="rotate(150) translate(0 -248)"/><use href="#ha" transform="rotate(165) translate(0 -248)"/><use href="#ha" transform="rotate(180) translate(0 -248)"/><use href="#ha" transform="rotate(-160) translate(0 -248)"/><use href="#ha" transform="rotate(-145) translate(0 -248)"/><use href="#ha" transform="rotate(-115) translate(0 -248)"/><use href="#ha" transform="rotate(-98) translate(0 -248)"/><use href="#ha" transform="rotate(-80) translate(0 -248)"/>
<use href="#na" transform="rotate(8) translate(0 -250)"/><use href="#na" transform="rotate(22) translate(0 -250)"/><use href="#na" transform="rotate(-50) translate(0 -250)"/><use href="#na" transform="rotate(62) translate(0 -250)"/><use href="#na" transform="rotate(128) translate(0 -250)"/><use href="#na" transform="rotate(144) translate(0 -250)"/><use href="#na" transform="rotate(-125) translate(0 -250)"/><use href="#na" transform="rotate(-106) translate(0 -250)"/>
<use href="#vb"/>
<g clip-path="url(#cc)"><g transform="rotate(-60)"><use href="#rows"/>
<path class="rw" stroke="#5c5c5c" d="M-190 -126H190M-190 -54H190M-190 18H190M-190 90H190"/>
<path class="rw" stroke="#eaeaea" d="M-190 -90H190M-190 126H190"/>
<path class="rw" stroke="#e4681c" d="M-190 -18H190"/>
<path class="rw" stroke="#8c2b97" d="M-190 54H190"/>
</g></g>
</g>

<!-- leader lines -->
<path class="ln" d="M862 1287 L893 1287 L906 1262 M1161 1206 L1196 1231 M1658 2005 L1679 2005 L1709 1984 M2020 1901 L2020 1926"/>

<!-- duck -->
<g stroke-linejoin="round">
<path d="M13 767 C60 700 90 640 98 593 C140 585 170 575 196 572 C260 520 300 505 339 497 C400 460 440 430 500 348 C540 315 600 300 652 315 C680 330 690 360 696 390 C720 400 745 420 759 440 C740 450 700 445 652 440 C650 455 650 470 660 480 C740 480 765 520 763 560 C760 620 730 680 680 712 C620 750 560 760 500 758 C420 756 350 735 179 740 C120 745 60 760 13 767 Z" fill="#f3f3f5" stroke="#6e2a0c" stroke-width="6"/>
<path d="M30 760 C80 720 110 690 160 668 C120 700 90 730 60 760 Z" fill="#1a1a1a"/>
<path d="M60 740 C150 700 250 690 350 700 M100 720 C200 690 300 680 400 690" fill="none" stroke="#c8c8cc" stroke-width="5"/>
<path d="M192 560 C200 500 235 455 280 438 C300 440 310 480 330 500 L320 540 C290 580 250 615 215 630 C195 610 188 590 192 560 Z" fill="#d3621d" stroke="#6e2a0c" stroke-width="4"/>
<path d="M340 500 C400 488 460 478 525 476 L505 497 C440 502 390 507 340 512 Z" fill="#222"/>
<path d="M263 580 C300 520 400 490 500 495 C570 500 620 520 628 570 C630 630 570 670 480 678 C380 685 290 660 263 620 Z" fill="#b98712" stroke="#6e2a0c" stroke-width="3"/>
<ellipse cx="420" cy="560" rx="120" ry="35" fill="#d4a94a" opacity="0.7" transform="rotate(-8 420 560)"/>
<path d="M555 470 C610 440 700 450 752 480 C765 530 750 590 700 620 C660 600 620 540 555 470 Z" fill="#151515"/>
<path d="M600 500 C640 530 660 570 670 610 M630 490 C670 520 690 560 700 600" fill="none" stroke="#fff" stroke-width="8"/>
<path d="M420 470 C460 400 510 345 580 318 C630 305 670 320 690 350 C680 400 660 440 620 465 C560 480 480 485 420 470 Z" fill="#b3531e"/>
<path d="M510 350 C550 318 610 305 655 318 C680 335 690 360 690 380 C650 375 600 370 560 372 Z" fill="#f5dca8"/>
<path d="M652 395 C680 385 720 400 759 440 C730 452 690 452 652 440 C645 425 645 408 652 395 Z" fill="#d61c1c" stroke="#6e1010" stroke-width="3"/>
<ellipse cx="625" cy="375" rx="20" ry="12" fill="#f8e6c0"/>
<circle cx="625" cy="375" r="10" fill="#1a1a1a"/>
<path d="M455 752 L452 870 M488 752 L492 860" stroke="#e9a19b" stroke-width="14"/>
<path d="M433 885 C480 860 560 855 607 870 L600 900 C540 905 470 905 440 905 Z" fill="#f7b7b3" stroke="#b44a3c" stroke-width="4"/>
</g>

<!-- pig -->
<g stroke-linejoin="round">
<path d="M2090 3930 L2175 3940 C2185 4020 2200 4100 2236 4162 L2165 4166 C2140 4110 2105 4030 2090 3930 Z" fill="#e7a58e" stroke="#b4532a" stroke-width="5"/>
<path d="M1518 3570 C1600 3535 1700 3512 1763 3515 C1870 3525 1980 3560 2078 3595 C2150 3605 2230 3615 2300 3640 C2350 3655 2390 3668 2410 3670 C2440 3660 2500 3660 2568 3668 C2560 3690 2500 3730 2450 3775 C2455 3810 2462 3850 2461 3876 C2460 3905 2449 3925 2402 3931 C2330 3945 2250 3946 2173 3946 C2150 3950 2110 3955 2090 3960 C2100 4060 2115 4140 2126 4212 L2047 4217 C2025 4150 1990 4040 1944 3941 C1900 3925 1850 3915 1810 3906 C1820 3990 1900 4120 1952 4202 L1873 4207 C1830 4150 1740 4060 1716 4041 C1700 4000 1690 3970 1692 3951 C1650 3930 1630 3910 1613 3901 C1580 3950 1575 4080 1609 4187 L1495 4192 C1470 4120 1462 4000 1459 3926 C1450 3850 1447 3750 1455 3701 C1460 3640 1480 3590 1518 3570 Z" fill="#fcd6c9" stroke="#b4532a" stroke-width="6"/>
<ellipse cx="1820" cy="3690" rx="200" ry="110" fill="#fee6de" opacity="0.8"/>
<path d="M1810 3906 C1830 3850 1900 3820 1944 3941" fill="#f2b7a2" opacity="0.7"/>
<path d="M1690 3600 C1700 3750 1720 3880 1692 3951 M2000 3640 C2010 3760 1990 3860 1944 3941" fill="none" stroke="#f0b09a" stroke-width="6"/>
<ellipse cx="1505" cy="3655" rx="50" ry="85" fill="#fcd6c9" stroke="#b4532a" stroke-width="5" transform="rotate(-8 1505 3655)"/>
<ellipse cx="1500" cy="3625" rx="16" ry="26" fill="#f5c0ae" stroke="#b4532a" stroke-width="4"/>
<path d="M2175 3700 C2190 3660 2240 3640 2290 3660 C2300 3700 2280 3740 2240 3770 C2210 3775 2180 3760 2175 3700 Z" fill="#e98e6c" stroke="#b4532a" stroke-width="5"/>
<path d="M2433 3662 C2480 3655 2540 3655 2568 3668 C2540 3700 2490 3740 2445 3770 Z" fill="#e98e6c" stroke="#b4532a" stroke-width="5"/>
<circle cx="2303" cy="3761" r="9" fill="#8a3a1c"/>
<ellipse cx="2418" cy="3885" rx="42" ry="44" fill="#f5a898" stroke="#b4532a" stroke-width="5"/>
<ellipse cx="2400" cy="3884" rx="7" ry="12" fill="#b4532a"/>
<ellipse cx="2438" cy="3886" rx="7" ry="12" fill="#b4532a"/>
</g>

<!-- badges -->
<circle cx="1328" cy="414" r="39" fill="#c48a1a"/>
<text x="1328" y="432" class="bd" text-anchor="middle">B</text>
<circle cx="54" cy="1497" r="40" fill="#d2622a"/>
<text x="54" y="1515" class="bd" text-anchor="middle">C</text>
<rect x="574" y="1361" width="132" height="77" rx="38" fill="#4a76b8"/>
<text x="640" y="1416" class="bd" text-anchor="middle">A-1</text>
<rect x="794" y="1907" width="132" height="77" rx="38" fill="#4a76b8"/>
<text x="860" y="1962" class="bd" text-anchor="middle">A-2</text>
<rect x="952" y="2253" width="132" height="77" rx="38" fill="#4a76b8"/>
<text x="1018" y="2308" class="bd" text-anchor="middle">A-3</text>
<rect x="2108" y="2884" width="133" height="79" rx="39" fill="#4a76b8"/>
<text x="2174" y="2940" class="bd" text-anchor="middle">A-4</text>

<!-- texts -->
<text x="109" y="108">인플루엔자가 인간이나 동물 사이에서 전파될 때 유전자 변이를</text>
<text x="109" y="169">일으킬 수 있다.  “항원 불연속 변이” 라 불리는 이러한 변이의</text>
<text x="109" y="229">경로는 다음의 세가지가 있다.</text>
<text x="159" y="851">조류 숙주</text>
<text x="790" y="557">조류 인플루엔자 A 변종</text>

<text x="1413" y="424">조류 인플루엔자 A</text>
<text x="1413" y="484">변종은 유전자</text>
<text x="1413" y="544">변형 없이도</text>
<text x="1413" y="604">오리와 같은</text>
<text x="1413" y="664">다른 수서 조류</text>
<text x="1413" y="724">에서 인체로 직접</text>
<text x="1413" y="784">전파될 수 있다.</text>

<text x="2168" y="424">인체에 침투한</text>
<text x="2168" y="484">변종 인플루엔자는</text>
<text x="2168" y="544">또 다시 변이를</text>
<text x="2168" y="604">일으켜 사람 사이에</text>
<text x="2168" y="664">전파되고 인플루엔자</text>
<text x="2168" y="724">대유행이 발생한다.</text>

<text x="2287" y="1263">인간</text>
<text x="2287" y="1324">숙주</text>

<text x="688" y="1250" class="it">HA</text>
<text x="710" y="1293">항원</text>
<text x="1183" y="1250" class="it">NA</text>
<text x="1223" y="1293">항원</text>

<text x="1513" y="1284">인간 인플루엔자 A 변종</text>
<text x="1486" y="1969" class="it">HA</text>
<text x="1486" y="2012" class="it">antigen</text>
<text x="1996" y="1979" class="it">NA</text>
<text x="1996" y="2023" class="it">antigen</text>

<text x="759" y="1413">오리와 같은 수서 조류가</text>
<text x="759" y="1472">닭이나 돼지 같은 다른</text>
<text x="759" y="1531">매개 동물 숙주로 조류 인</text>
<text x="759" y="1590">플루엔자 A 변종을 전파한다.</text>

<text x="4" y="1633">조류 인플루엔자 A</text>
<text x="4" y="1693">변종은 유전자</text>
<text x="4" y="1753">변형 없이도</text>
<text x="4" y="1813">오리와 같은</text>
<text x="4" y="1873">다른 수서 조류</text>
<text x="4" y="1933">에서 매개 동물</text>
<text x="4" y="1993">숙주로 직접</text>
<text x="4" y="2053">전파될 수 있다.</text>

<text x="962" y="1953">인간 인플루엔자 A</text>
<text x="962" y="2012">변종이 닭이나 돼지</text>
<text x="962" y="2071">같은  매개 동물 숙주</text>
<text x="962" y="2131">에게 전파된다.(두 종류의 인플루엔자에 감염된 사람의</text>
<text x="962" y="2190">인체 안에서 인플루엔자 유전자가 재편성된 사례가 있다.)</text>

<text x="1114" y="2296">같은 세포가 조류 인플루엔자 A 변종과</text>
<text x="1114" y="2356">인간 인플루엔자 A 변종에 동시에 감염될 경우</text>
<text x="1114" y="2416">두 인플루엔자 유전자가 혼합되어 새로운 변종이</text>
<text x="1114" y="2476">발생한다.</text>

<text x="938" y="2850">매개 숙주의 세포에 대한</text>
<text x="938" y="2911">다양한 침입 경로</text>
<text x="830" y="3600">유전자 혼합</text>
<text x="1748" y="3123">새로운 변종</text>
<text x="1748" y="3181">인플루엔자</text>
<text x="1719" y="3434">매개 숙주 세포</text>

<text x="2129" y="3040">새로운 변종이</text>
<text x="2129" y="3100">매개 동물과</text>
<text x="2129" y="3160">인간에게 전파</text>
<text x="2129" y="3220">된다.</text>

<text x="208" y="3690" style="font-style:italic;font-size:54px;fill:#555;letter-spacing:0" textLength="457" lengthAdjust="spacingAndGlyphs">Link Studio for NIAID</text>
<text x="992" y="4028">매개 숙주(돼지)</text>
</svg>
</body></html>
